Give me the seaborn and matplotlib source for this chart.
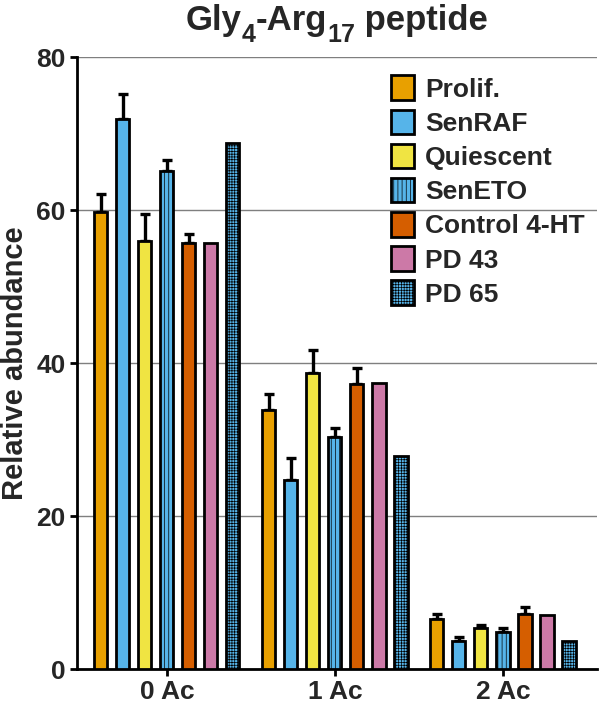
import numpy as np
import pandas as pd
import matplotlib
matplotlib.use("Agg")
import matplotlib.pyplot as plt
import seaborn as sns

groups = ["0 Ac", "1 Ac", "2 Ac"]
conditions = ["Prolif.", "SenRAF", "Quiescent", "SenETO", "Control 4-HT", "PD 43", "PD 65"]
colors = ["#E8A000", "#56B4E9", "#F0E442", "#56B4E9", "#D55E00", "#CC79A7", "#56B4E9"]
hatches = ["", "", "", "||||", "", "", "++++++"]

prolif = [59.7, 33.9, 6.5]
senraf = [71.9, 24.7, 3.7]
quiescent = [56.0, 38.7, 5.3]
seneto = [65.1, 30.3, 4.9]
control = [55.7, 37.3, 7.2]
pd43 = [55.7, 37.4, 7.1]
pd65 = [68.8, 27.8, 3.6]

prolif_err = [2.4, 2.0, 0.7]
senraf_err = [3.3, 2.9, 0.5]
quiescent_err = [3.5, 3.0, 0.5]
seneto_err = [1.5, 1.2, 0.5]
control_err = [1.2, 2.1, 0.9]
pd43_err = [0, 0, 0]
pd65_err = [0, 0, 0]

values = [prolif, senraf, quiescent, seneto, control, pd43, pd65]
errors = [prolif_err, senraf_err, quiescent_err, seneto_err, control_err, pd43_err, pd65_err]

title_parts = [("Gly", "main"), ("4", "sub"), ("-Arg", "main"), ("17", "sub"), (" peptide", "main")]

rows = []
for c, vals in zip(conditions, values):
    for g, v in zip(groups, vals):
        rows.append({"group": g, "condition": c, "value": v})
df = pd.DataFrame(rows)

sns.set_style("white")
plt.rcParams["font.family"] = ["Liberation Sans", "DejaVu Sans"]
plt.rcParams["font.weight"] = "bold"
plt.rcParams["hatch.linewidth"] = 0.5
plt.rcParams["hatch.color"] = "#1a3050"

fig = plt.figure(figsize=(6, 7.04), dpi=100)
ax = fig.add_axes([0.128, 0.0497, 0.867, 0.8693])

sns.barplot(data=df, x="group", y="value", hue="condition", order=groups,
            hue_order=conditions, palette=colors, dodge=True, width=0.917,
            gap=0.4, edgecolor="black", linewidth=2.0, ax=ax, zorder=3,
            errorbar=None, saturation=1)

bar_containers = list(ax.containers)[:len(conditions)]
for i, cont in enumerate(bar_containers):
    for j, bar in enumerate(cont):
        if hatches[i]:
            bar.set_hatch(hatches[i])
        e = errors[i][j]
        if e > 0:
            xc = bar.get_x() + bar.get_width() / 2
            ax.errorbar([xc], [bar.get_height()], yerr=[[0], [e]], fmt="none",
                        ecolor="black", elinewidth=2.4, capsize=3.6, capthick=2.4,
                        zorder=2.5)

ax.set_ylim(0, 80)
ax.set_xlim(-0.536, 2.56)
ax.set_yticks([0, 20, 40, 60, 80])
ax.yaxis.grid(True, color="#7f7f7f", linewidth=1.0)
ax.xaxis.grid(False)
ax.set_axisbelow(True)
for s in ["top", "right"]:
    ax.spines[s].set_visible(False)
for s in ["left", "bottom"]:
    ax.spines[s].set_color("black")
    ax.spines[s].set_linewidth(2.0)
ax.tick_params(axis="both", which="both", direction="out", length=5, width=2,
               color="black", labelsize=19, pad=3, left=True, bottom=True)
for lbl in ax.get_xticklabels() + ax.get_yticklabels():
    lbl.set_fontweight("bold")
ax.set_xlabel("")
ax.set_ylabel("Relative abundance", fontsize=21, fontweight="bold", labelpad=5)

handles, labels = ax.get_legend_handles_labels()
handles, labels = handles[:len(conditions)], labels[:len(conditions)]
for h, hatch in zip(handles, hatches):
    if hatch:
        h.set_hatch(hatch)
    h.set_edgecolor("black")
    h.set_linewidth(2.0)
ax.legend(handles, labels, loc="upper left", bbox_to_anchor=(0.568, 1.0),
          frameon=False, handlelength=0.9, handleheight=1.05,
          labelspacing=0.3, handletextpad=0.4, borderpad=0.2,
          prop={"weight": "bold", "size": 19})

# title with large dropped subscripts
renderer = fig.canvas.get_renderer()
W, H = fig.get_size_inches() * fig.dpi
main_y = 1 - 30 / H
sub_y = 1 - 42 / H
texts = []
x = 0.0
for s, kind in title_parts:
    if kind == "main":
        t = fig.text(x, main_y, s, fontsize=25, fontweight="bold", va="baseline", ha="left")
    else:
        t = fig.text(x, sub_y, s, fontsize=18, fontweight="bold", va="baseline", ha="left")
    w = t.get_window_extent(renderer).width / W
    x += w
    texts.append(t)
center = 0.128 + 0.867 / 2
shift = center - x / 2
for t in texts:
    px, py = t.get_position()
    t.set_position((px + shift, py))

fig.savefig("out.png", dpi=100)
